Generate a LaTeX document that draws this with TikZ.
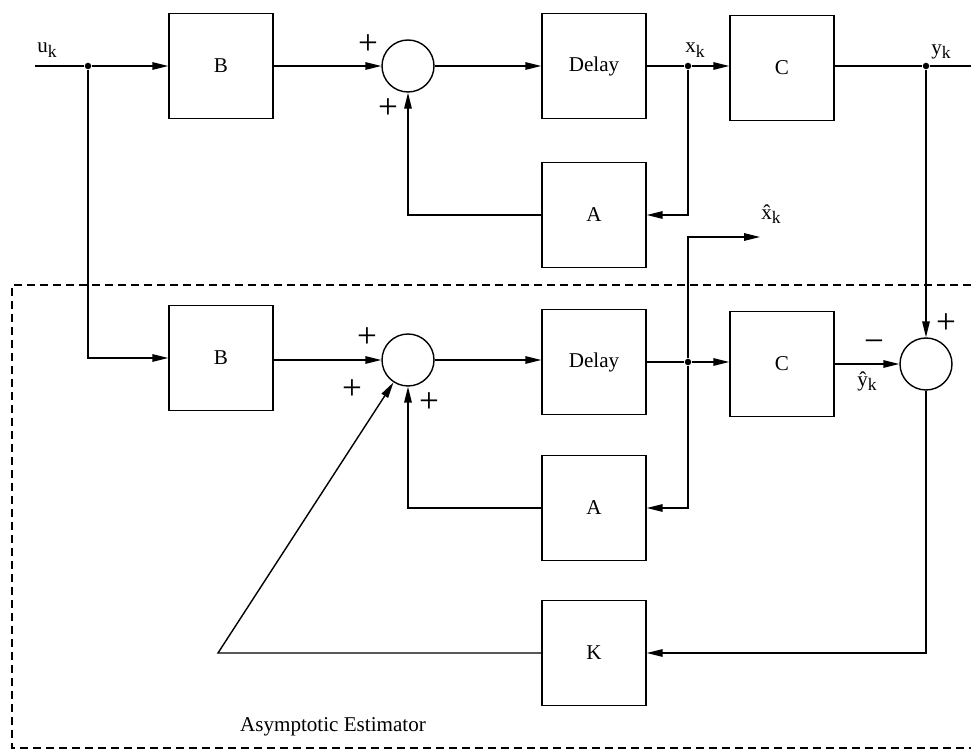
\documentclass[tikz,border=0pt]{standalone}
\usepackage{fontspec}
\setmainfont{Liberation Serif}
\usetikzlibrary{arrows.meta,positioning}
\newcommand{\idxk}[1]{#1\raisebox{-0.45ex}{\fontsize{10}{12}\selectfont k}}

\begin{document}
\begin{tikzpicture}[x=0.02cm,y=-0.02cm,
    >={Triangle[length=3.2mm,width=1.5mm]},
    wire/.style={line width=0.8pt},
    blk/.style={draw,line width=0.8pt,minimum width=2.08cm,minimum height=2.1cm,font=\fontsize{12}{14}\selectfont},
    sumc/.style={draw,circle,line width=0.8pt,minimum size=1.04cm,inner sep=0pt},
    dot/.style={circle,fill,inner sep=0pt,minimum size=1.3mm},
    sgn/.style={font=\fontsize{20}{22}\selectfont,inner sep=0pt},
    lab/.style={font=\fontsize{12}{14}\selectfont,inner sep=1pt}]
\useasboundingbox (0,0) rectangle (971,756);
% ===== plant =====
\node[blk]  (b1)   at (221,66)  {B};
\node[sumc] (s1)   at (408,66)  {};
\node[blk]  (del1) at (594,66)  {Delay};
\node[blk]  (c1)   at (782,68)  {C};
\node[blk]  (a1)   at (594,215) {A};
\coordinate (uin)  at (35,66);
\node[dot]  (ujn)  at (88,66)   {};
\node[dot]  (xkj)  at (688,66)  {};
\node[dot]  (ykj)  at (926,66)  {};
\coordinate (yout) at (971,66);
\draw[wire] (uin) -- (ujn);
\draw[wire,->] (ujn) -- (b1);
\draw[wire,->] (b1) -- (s1);
\draw[wire,->] (s1) -- (del1);
\draw[wire] (del1) -- (xkj);
\draw[wire,->] (xkj) -- (c1.west |- xkj);
\draw[wire,->] (xkj) |- (a1.east);
\draw[wire,->] (a1.west) -| (s1.south);
\draw[wire] (c1.east |- ykj) -- (ykj) -- (yout);
\node[lab] at (47,50)  {\idxk{u}};
\node[lab] at (695,50) {\idxk{x}};
\node[lab] at (941,52) {\idxk{y}};
\node[sgn] at (368,45)  {+};
\node[sgn] at (388,109) {+};
% ===== estimator =====
\node[blk]  (b2)   at (221,358) {B};
\node[sumc] (s2)   at (408,360) {};
\node[blk]  (del2) at (594,362) {Delay};
\node[blk]  (c2)   at (782,364) {C};
\node[sumc] (s3)   at (926,364) {};
\node[blk]  (a2)   at (594,508) {A};
\node[blk]  (k)    at (594,653) {K};
\node[dot]  (xhj)  at (688,362) {};
\coordinate (xhe)  at (760,237);
\coordinate (kc)   at (218,653);
\draw[wire,->] (ujn) |- (b2.west);
\draw[wire,->] (b2.east |- s2) -- (s2);
\draw[wire,->] (s2.east) -- (del2.west |- s2.east);
\draw[wire] (del2) -- (xhj);
\draw[wire,->] (xhj) -- (c2.west |- xhj);
\draw[wire,->] (c2.east |- s3) -- node[lab,below=3pt] {\idxk{\^{y}}} (s3);
\draw[wire,->] (xhj) |- (a2.east);
\draw[wire,->] (a2.west) -| (s2.south);
\draw[wire,->] (xhj) |- (xhe);
\draw[wire,->] (ykj) -- (s3.north);
\draw[wire,->] (s3.south) |- (k.east);
\draw[wire,->] (k.west) -- (kc) -- (s2);
\node[lab] at (771,214) {\idxk{\^{x}}};
\node[sgn] at (367,338) {+};
\node[sgn] at (352,390) {+};
\node[sgn] at (429,403) {+};
\node[sgn] at (874,346) {−};
\node[sgn] at (946,324) {+};
% ===== estimator frame =====
\draw[line width=0.8pt,dash pattern=on 0.16cm off 0.1cm]
  (971,285) -- (12,285) -- (12,748) -- (971,748);
\node[lab] at (333,727) {Asymptotic Estimator};
\end{tikzpicture}
\end{document}
